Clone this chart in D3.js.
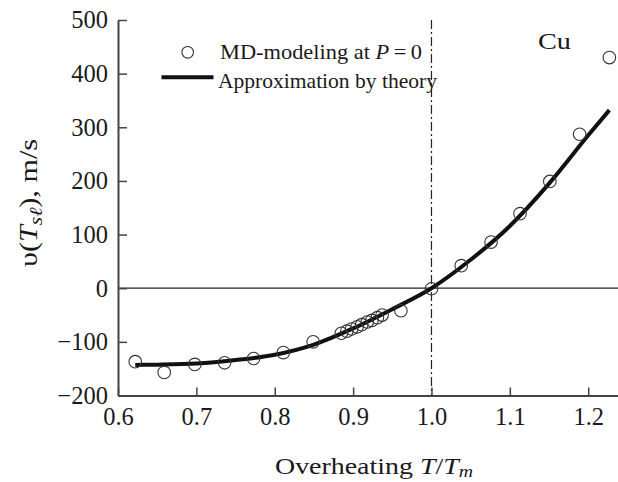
<!DOCTYPE html>
<html>
<head>
<meta charset="utf-8">
<script src="https://cdn.jsdelivr.net/npm/d3@7"></script>
<style>
  html, body { margin: 0; padding: 0; background: #fff; }
  svg { display: block; }
  .tick text { font-family: "Liberation Serif", "Times New Roman", serif !important; }
</style>
</head>
<body>
<svg id="chart" width="618" height="482"></svg>
<script>
// ---- data ----
const mdX = [0.622, 0.659, 0.698, 0.736, 0.773, 0.811, 0.849, 0.885, 0.892, 0.898, 0.905, 0.911, 0.918, 0.924, 0.931, 0.937, 0.961, 1.000, 1.038, 1.076, 1.113, 1.151, 1.189, 1.227];
const mdY = [-137, -157, -142, -139, -131, -120, -100, -84, -80, -76, -72, -68, -63, -60, -55, -50, -42, -1, 42, 86, 139, 199, 287, 430];

const theoryX = [0.622, 0.65, 0.70, 0.75, 0.80, 0.85, 0.90, 0.95, 1.00, 1.05, 1.10, 1.15, 1.20, 1.227];
const theoryY = [-143, -142.5, -140.5, -134, -124, -105, -75, -39, 0, 53, 116, 195, 285, 332];

const xTicks = [0.6, 0.7, 0.8, 0.9, 1.0, 1.1, 1.2];
const yTicks = [-200, -100, 0, 100, 200, 300, 400, 500];
const meltingPoint = [1.0];

// ---- layout ----
const FONT = '"Liberation Serif", "Times New Roman", serif';
const svg = d3.select("#chart");
const x = d3.scaleLinear().domain([0.6, 1.238]).range([118, 618]);
const y = d3.scaleLinear().domain([-200, 500]).range([395.5, 20]);
const axisColor = "#444";

// zero line
svg.append("line")
  .attr("x1", x(0.6)).attr("x2", x(1.238))
  .attr("y1", y(0)).attr("y2", y(0))
  .attr("stroke", "#222").attr("stroke-width", 1.2);

// vertical dash-dot line at T/Tm = 1
svg.selectAll(".vline").data(meltingPoint).enter().append("line")
  .attr("x1", d => x(d)).attr("x2", d => x(d))
  .attr("y1", y(500)).attr("y2", y(-200))
  .attr("stroke", "#222").attr("stroke-width", 1.2)
  .attr("stroke-dasharray", "9,3,2,3");

// axes
const yAxis = svg.append("g")
  .attr("transform", `translate(${x(0.6)},0)`)
  .call(d3.axisLeft(y).tickValues(yTicks).tickSizeInner(-9).tickSizeOuter(0).tickPadding(10).tickFormat(d3.format("d")));
const xAxis = svg.append("g")
  .attr("transform", `translate(0,${y(-200)})`)
  .call(d3.axisBottom(x).tickValues(xTicks).tickSizeInner(-8).tickSizeOuter(0).tickPadding(12).tickFormat(d3.format(".1f")));

[xAxis, yAxis].forEach(g => {
  g.attr("font-family", null).attr("font-size", null);
  g.select(".domain").attr("stroke", axisColor).attr("stroke-width", 2);
  g.selectAll(".tick line").attr("stroke", axisColor).attr("stroke-width", 1.5);
  g.selectAll(".tick text").attr("fill", "#1a1a1a")
    .style("font-family", FONT).style("font-size", "24.5px");
});

// theory curve
const line = d3.line().x((d, i) => x(theoryX[i])).y(d => y(d)).curve(d3.curveMonotoneX);
svg.append("path")
  .datum(theoryY)
  .attr("d", line)
  .attr("fill", "none")
  .attr("stroke", "#111")
  .attr("stroke-width", 4);

// MD points
svg.selectAll(".md").data(mdY).enter().append("circle")
  .attr("cx", (d, i) => x(mdX[i]))
  .attr("cy", d => y(d))
  .attr("r", 6.3)
  .attr("fill", "none")
  .attr("stroke", "#333")
  .attr("stroke-width", 1.1);

function txt(xp, yp, size, len) {
  const t = svg.append("text").attr("x", xp).attr("y", yp)
    .style("font-family", FONT).style("font-size", size + "px").attr("fill", "#1a1a1a");
  if (len) t.attr("textLength", len).attr("lengthAdjust", "spacingAndGlyphs");
  return t;
}

// legend
svg.append("circle").attr("cx", 187.7).attr("cy", 52.3).attr("r", 5.8)
  .attr("fill", "none").attr("stroke", "#333").attr("stroke-width", 1.1);
const l1 = txt(220, 59, 21, 202);
l1.append("tspan").text("MD-modeling at ");
l1.append("tspan").style("font-style", "italic").text("P");
l1.append("tspan").text("\u2009=\u20090");

svg.append("line").attr("x1", 161.5).attr("x2", 213.5).attr("y1", 77.3).attr("y2", 77.3)
  .attr("stroke", "#111").attr("stroke-width", 4);
txt(218, 88, 21, 219).text("Approximation by theory");

// Cu label
txt(538, 49.3, 24, 33).text("Cu");

// x-axis title
const xt = txt(275, 474, 24, 198);
xt.append("tspan").text("Overheating ");
xt.append("tspan").style("font-style", "italic").text("T");
xt.append("tspan").text("/");
xt.append("tspan").style("font-style", "italic").text("T");
xt.append("tspan").style("font-style", "italic").style("font-size", "17px").attr("dy", 3).text("m");

// y-axis title
const yt = svg.append("text")
  .attr("transform", "translate(36.5,203) rotate(-90)")
  .attr("text-anchor", "middle")
  .style("font-family", FONT).style("font-size", "25px").attr("fill", "#1a1a1a")
  .attr("textLength", 128).attr("lengthAdjust", "spacingAndGlyphs");
yt.append("tspan").text("\u03c5(");
yt.append("tspan").style("font-style", "italic").text("T");
yt.append("tspan").style("font-style", "italic").style("font-size", "18px").attr("dy", 5).text("s\u2113");
yt.append("tspan").attr("dy", -5).text("), m/s");
</script>
</body>
</html>
